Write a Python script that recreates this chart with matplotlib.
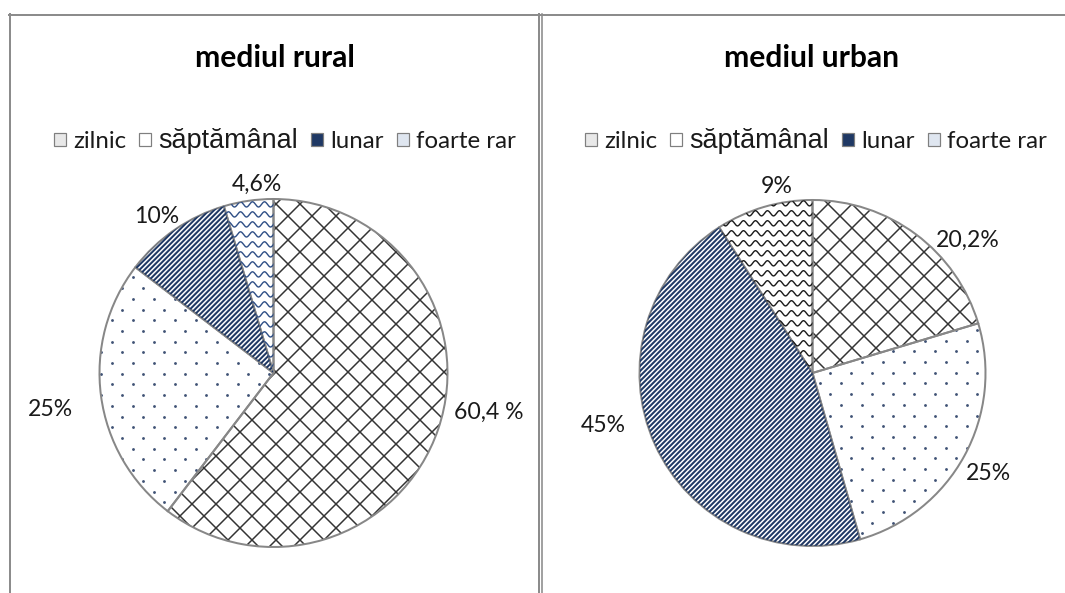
import numpy as np
import matplotlib
matplotlib.use('Agg')
import matplotlib.pyplot as plt
from matplotlib.patches import Patch
from matplotlib.lines import Line2D
from matplotlib.font_manager import FontProperties

# ---------------- data ----------------
categories = ['zilnic', 'săptămânal', 'lunar', 'foarte rar']
rural_values = [60.4, 25, 10, 4.6]
urban_values = [20.2, 25, 45, 9]
rural_labels = ['60,4 %', '25%', '10%', '4,6%']
urban_labels = ['20,2%', '25%', '45%', '9%']
titles = ['mediul rural', 'mediul urban']

# ---------------- layout / style ----------------
W, H, DPI = 1065, 593, 72
BORDER = '#8c8c8c'
OUTLINE = '#878787'
NAVY = '#1f3864'
cross_color = '#333333'
dot_color = '#3f5275'
wave_colors = ['#2f4f86', '#1a1a1a']
plt.rcParams['hatch.linewidth'] = 1.5

fig = plt.figure(figsize=(W / DPI, H / DPI), dpi=DPI)
fig.patch.set_facecolor('white')

def fx(x):
    return x / W

def fy(y):
    return 1 - y / H

def vline(x, y0, y1, lw=2):
    fig.add_artist(Line2D([fx(x), fx(x)], [fy(y0), fy(y1)], color=BORDER, lw=lw))

def hline(x0, x1, y, lw=2):
    fig.add_artist(Line2D([fx(x0), fx(x1)], [fy(y), fy(y)], color=BORDER, lw=lw))

# panel borders
vline(9.5, 14, 593)
hline(9, 539.5, 14.5)
vline(538.8, 14, 593, lw=2)
vline(541.8, 14, 593, lw=1.6)
hline(541, 1065, 14.5)

title_font = FontProperties(family='Lato', weight='bold', size=30)
label_font = FontProperties(family='Lato', size=23)


def draw_pie(cx, cy, r, values, labels, wave_color, nudges):
    ax = fig.add_axes([fx(cx - r), fy(cy + r), 2 * r / W, 2 * r / H])
    wedges, _ = ax.pie(values, startangle=90, counterclock=False,
                       colors=['white'] * 4,
                       wedgeprops=dict(linewidth=0))
    unit = 1.0 / r  # one pixel in data units
    # crosshatch for the first slice
    wedges[0].set_edgecolor(cross_color)
    wedges[0].set_hatch('x')
    # dotted pattern for the second slice (staggered lattice)
    rows = np.arange(-1.05, 1.05, 10.7 * unit)
    dx_list, dy_list = [], []
    for i, yb in enumerate(rows):
        off = (i % 2) * 10.5 * unit
        xs_d = np.arange(-1.05 + off, 1.05, 21 * unit)
        dx_list.extend(xs_d)
        dy_list.extend([yb] * len(xs_d))
    sc = ax.scatter(dx_list, dy_list, s=8, color=dot_color, linewidths=0)
    sc.set_clip_path(wedges[1])
    # dense diagonal stripes for the third slice
    for b in np.arange(-2.2, 2.2, 5.0 * unit):
        ln, = ax.plot([-1.1, 1.1], [b - 1.1, b + 1.1], color=NAVY, lw=2.0,
                      solid_capstyle='butt')
        ln.set_clip_path(wedges[2])
    # wavy pattern for the last slice
    xs = np.linspace(-1.1, 1.1, 900)
    for yb in np.arange(-1.1, 1.1, 10 * unit):
        ln, = ax.plot(xs, yb + 2.6 * unit * np.sin(2 * np.pi * xs / (12 * unit)),
                      color=wave_color, lw=1.4)
        ln.set_clip_path(wedges[3])
    # outlines
    ax.pie(values, startangle=90, counterclock=False,
           colors=['none'] * 4,
           wedgeprops=dict(linewidth=2, edgecolor=OUTLINE, fill=False))
    ax.set_xlim(-1, 1)
    ax.set_ylim(-1, 1)
    ax.set_aspect('auto')
    ax.axis('off')
    # labels outside end
    for w, lab, (dx, dy) in zip(wedges, labels, nudges):
        ang = np.deg2rad((w.theta1 + w.theta2) / 2)
        c, s = np.cos(ang), np.sin(ang)
        d = 1.06
        ha = 'left' if c > 0.3 else ('right' if c < -0.3 else 'center')
        va = 'bottom' if s > 0.3 else ('top' if s < -0.3 else 'center')
        ax.text(d * c + dx * unit, d * s - dy * unit, lab, ha=ha, va=va,
                fontproperties=label_font, color='#1a1a1a', clip_on=False)
    return ax, wedges


rural_nudges = [(6, -30), (-18, 12), (10, 6), (10, 4)]
urban_nudges = [(14, 25), (-8, 2), (-20, -34), (16, 0)]

axL, wL = draw_pie(273.5, 373, 174, rural_values, rural_labels, wave_colors[0], rural_nudges)
axR, wR = draw_pie(812.5, 373, 173, urban_values, urban_labels, wave_colors[1], urban_nudges)

fig.text(fx(274.5), fy(58), titles[0], ha='center', va='center',
         fontproperties=title_font, color='black')
fig.text(fx(811), fy(58), titles[1], ha='center', va='center',
         fontproperties=title_font, color='black')

# legends
def make_handles():
    return [Patch(facecolor='#e8e8e8', edgecolor='#7f7f7f', lw=1.2),
            Patch(facecolor='white', edgecolor='#7f7f7f', lw=1.2),
            Patch(facecolor=NAVY, edgecolor='#7f7f7f', lw=1.2),
            Patch(facecolor='#dfe6f0', edgecolor='#7f7f7f', lw=1.2)]

for lx, ly in [(285, 141), (816, 141)]:
    leg = fig.legend(make_handles(), categories, loc='center',
                     bbox_to_anchor=(fx(lx), fy(ly)), ncol=4, frameon=False,
                     handlelength=0.5, handleheight=0.5, handletextpad=0.3,
                     columnspacing=0.55, borderpad=0,
                     prop=FontProperties(family='Lato', size=24))
    for t in leg.get_texts():
        t.set_color('#1a1a1a')
    leg.get_texts()[1].set_fontproperties(FontProperties(family='Liberation Sans', size=27))

fig.savefig('out.png', dpi=DPI, facecolor='white')
